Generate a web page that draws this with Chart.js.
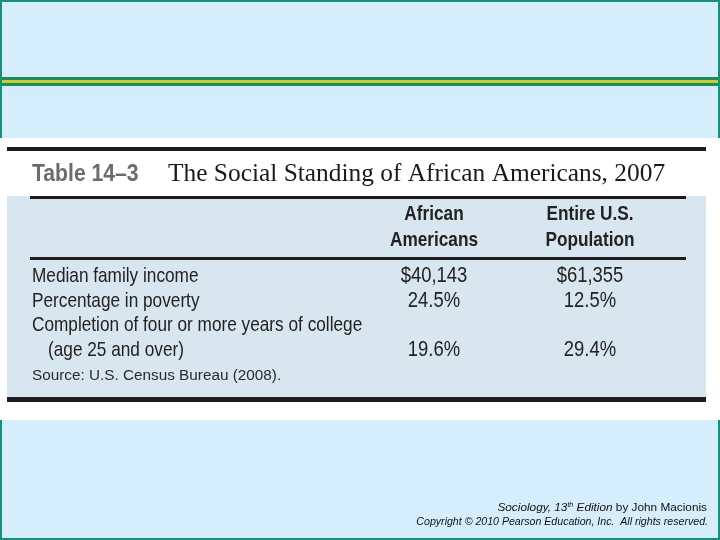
<!DOCTYPE html>
<html>
<head>
<meta charset="utf-8">
<script src="https://cdn.jsdelivr.net/npm/chart.js@4"></script>
<style>
  html, body { margin: 0; padding: 0; background: #fff; }
  canvas { display: block; }
</style>
</head>
<body>
<canvas id="chart1" width="720" height="540"></canvas>
<script>
// table content
const tableNo = 'Table 14\u20133';
const tableTitle = 'The Social Standing of African Americans, 2007';
const columns = [['African', 'Americans'], ['Entire U.S.', 'Population']];
const rowLabels = [
    ['Median family income'],
    ['Percentage in poverty'],
    ['Completion of four or more years of college', '(age 25 and over)']
];
const rowUnits = ['$', '%', '%'];
const africanAmericans = [40143, 24.5, 19.6];
const entirePopulation = [61355, 12.5, 29.4];
const source = 'Source: U.S. Census Bureau (2008).';

const sans = '"Liberation Sans", Arial, sans-serif';

const colLabels = columns.map(c => c.join(' '));
const lineLabels = rowLabels.flat();

function fmt(v, i) {
    if (rowUnits[i] === '$') return '$' + v.toLocaleString('en-US');
    return v.toFixed(1) + '%';
}

function pointsFor(values, col) {
    // each value sits on the last text line of its row
    return values.map((v, i) => ({ x: colLabels[col], y: rowLabels[i][rowLabels[i].length - 1] }));
}

// condensed look: Arial squeezed horizontally
function narrowText(ctx, t, x, y, sx) {
    ctx.save();
    ctx.translate(x, y);
    ctx.scale(sx, 1);
    ctx.fillText(t, 0, 0);
    ctx.restore();
}

const tablePlugin = {
    id: 'tablePlugin',
    beforeDraw(chart) {
        const ctx = chart.ctx;
        ctx.save();
        // slide
        ctx.fillStyle = '#d6eefc';
        ctx.fillRect(0, 0, 720, 540);
        ctx.strokeStyle = '#15907a';
        ctx.lineWidth = 2;
        ctx.strokeRect(1, 1, 718, 538);
        ctx.fillStyle = '#1f8c58';
        ctx.fillRect(2, 77, 716, 9);
        ctx.fillStyle = '#cacd3a';
        ctx.fillRect(2, 80, 716, 3);
        // scanned table
        ctx.fillStyle = '#ffffff';
        ctx.fillRect(0, 138, 720, 282);
        ctx.fillStyle = '#d8e6ef';
        ctx.fillRect(7, 196, 699, 201);
        ctx.fillStyle = '#1c1c1c';
        ctx.fillRect(7, 147, 699, 4);
        ctx.fillRect(30, 196, 656, 3);
        ctx.fillRect(30, 257, 656, 3);
        ctx.fillRect(7, 397, 699, 5);
        ctx.restore();
    },
    afterDraw(chart) {
        const ctx = chart.ctx;
        const x = chart.scales.x, y = chart.scales.y;
        ctx.save();
        // title
        ctx.textBaseline = 'alphabetic';
        ctx.textAlign = 'left';
        ctx.fillStyle = '#6b6b6b';
        ctx.font = 'bold 23.5px ' + sans;
        narrowText(ctx, tableNo, 32, 181, 0.9);
        ctx.fillStyle = '#1a1a1a';
        ctx.font = '25.4px "Liberation Serif", "DejaVu Serif", serif';
        ctx.fillText(tableTitle, 168, 181);

        // column headers
        ctx.textAlign = 'center';
        ctx.textBaseline = 'middle';
        ctx.fillStyle = '#222';
        ctx.font = 'bold 21px ' + sans;
        columns.forEach((lines, i) => {
            const cx = x.getPixelForValue(i);
            lines.forEach((t, j) => narrowText(ctx, t, cx, 214 + j * 26, 0.82));
        });

        // row labels
        ctx.textAlign = 'left';
        ctx.font = '21px ' + sans;
        rowLabels.forEach(lines => {
            lines.forEach((t, j) => {
                const py = y.getPixelForValue(lineLabels.indexOf(t));
                narrowText(ctx, t, j ? 48 : 32, py + 1, 0.82);
            });
        });

        // values
        ctx.textAlign = 'center';
        ctx.font = '22.5px ' + sans;
        chart.data.datasets.forEach((ds, di) => {
            chart.getDatasetMeta(di).data.forEach((pt, i) => {
                narrowText(ctx, fmt(ds.values[i], i), pt.x, pt.y + 1, 0.82);
            });
        });

        // source
        ctx.textAlign = 'left';
        ctx.font = '15.3px ' + sans;
        ctx.fillStyle = '#2a2a2a';
        ctx.fillText(source, 32, 376);

        // footer
        ctx.textBaseline = 'alphabetic';
        ctx.fillStyle = '#111';
        const parts = [
            ['Sociology, 13', 'italic 11.8px ' + sans, 0],
            ['th', 'italic 7px ' + sans, -4],
            [' Edition', 'italic 11.8px ' + sans, 0],
            [' by John Macionis', '11.8px ' + sans, 0]
        ];
        let w = 0;
        parts.forEach(p => { ctx.font = p[1]; w += ctx.measureText(p[0]).width; });
        let px = 707 - w;
        parts.forEach(p => {
            ctx.font = p[1];
            ctx.fillText(p[0], px, 511 + p[2]);
            px += ctx.measureText(p[0]).width;
        });
        ctx.textAlign = 'right';
        ctx.font = 'italic 10.6px ' + sans;
        ctx.fillText('Copyright \u00a9 2010 Pearson Education, Inc.  All rights reserved.', 708, 524.5);
        ctx.restore();
    }
};

const ctx = document.getElementById('chart1').getContext('2d');
const datasetA = { label: colLabels[0], data: pointsFor(africanAmericans, 0), values: africanAmericans, pointRadius: 0 };
const datasetB = { label: colLabels[1], data: pointsFor(entirePopulation, 1), values: entirePopulation, pointRadius: 0 };

let myChart = new Chart(ctx, {
    type: 'scatter',
    data: { datasets: [datasetA, datasetB] },
    options: {
        responsive: false,
        animation: false,
        events: [],
        layout: { padding: { left: 356, right: 52, top: 263, bottom: 179 } },
        scales: {
            x: { type: 'category', labels: colLabels, offset: true, display: false },
            y: { type: 'category', labels: lineLabels, offset: true, display: false }
        },
        plugins: { legend: { display: false }, tooltip: { enabled: false } }
    },
    plugins: [tablePlugin]
});
</script>
</body>
</html>
